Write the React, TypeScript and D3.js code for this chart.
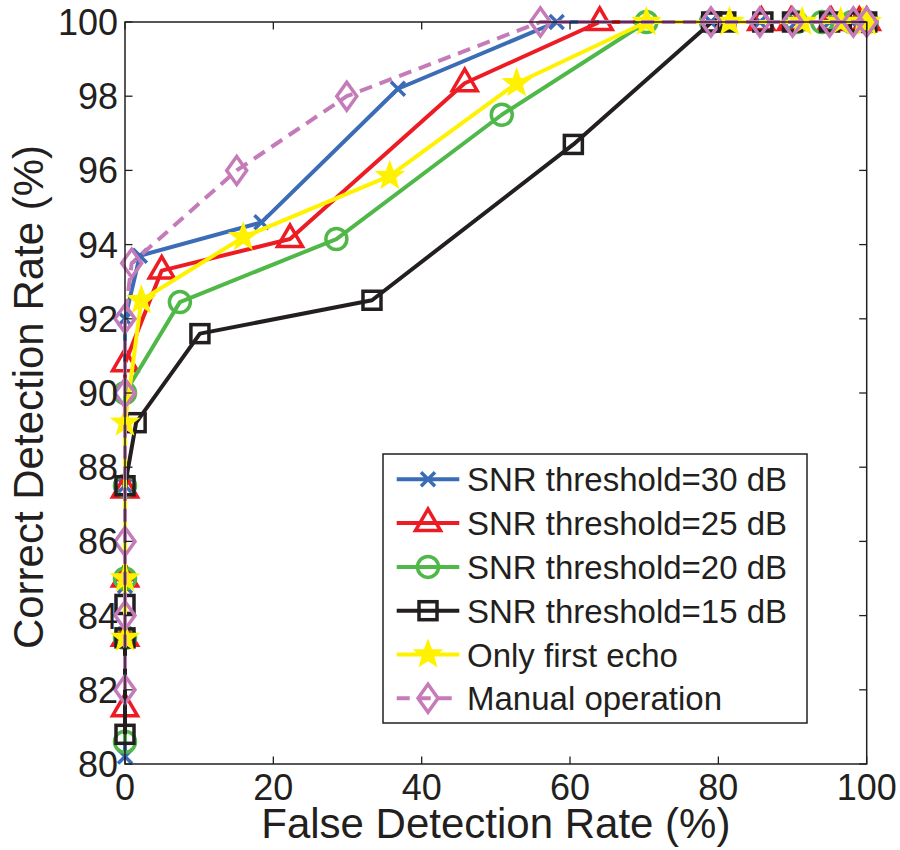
import React from "react";
import * as d3 from "d3";

const X_TICKS = [0, 20, 40, 60, 80, 100];
const Y_TICKS = [80, 82, 84, 86, 88, 90, 92, 94, 96, 98, 100];

const seriesNames = [
  "SNR threshold=30 dB",
  "SNR threshold=25 dB",
  "SNR threshold=20 dB",
  "SNR threshold=15 dB",
  "Only first echo",
  "Manual operation",
];

const snr30X = [0, 0, 0, 0, 0, 2.0, 18.4, 36.8, 58.2, 79, 85.6, 90.5, 95, 98, 100];
const snr30Y = [80.2, 83.5, 84.8, 87.5, 92.0, 93.7, 94.6, 98.2, 100, 100, 100, 100, 100, 100, 100];

const snr25X = [0, 0, 0, 0, 0, 4.95, 22.25, 45.8, 64.0, 85.8, 89.8, 95.2, 99, 100];
const snr25Y = [81.5, 83.4, 85.0, 87.4, 90.8, 93.3, 94.15, 98.35, 100, 100, 100, 100, 100, 100];

const snr20X = [0, 0, 0, 0, 0, 7.4, 28.5, 50.8, 70.3, 79, 90.5, 94, 98, 100];
const snr20Y = [80.6, 83.4, 85.0, 87.5, 90.0, 92.45, 94.15, 97.5, 100, 100, 100, 100, 100, 100];

const snr15X = [0, 0, 0, 0, 1.5, 10.1, 33.3, 60.45, 79.1, 81, 86, 90, 95, 99, 100];
const snr15Y = [80.8, 83.4, 84.3, 87.5, 89.2, 91.6, 92.5, 96.7, 100, 100, 100, 100, 100, 100, 100];

const firstEchoX = [0, 0, 0, 2.2, 15.95, 35.7, 52.8, 70.3, 81.5, 91.3, 96.5, 99.5, 100];
const firstEchoY = [83.4, 85.0, 89.2, 92.5, 94.2, 95.85, 98.35, 100, 100, 100, 100, 100, 100];

const manualX = [0, 0, 0, 0, 0, 0.9, 15.06, 29.9, 56, 79, 85.6, 90, 95, 98.2, 100];
const manualY = [82, 84, 86, 90, 92, 93.5, 96, 98, 100, 100, 100, 100, 100, 100, 100];

const seriesX = [snr30X, snr25X, snr20X, snr15X, firstEchoX, manualX];
const seriesY = [snr30Y, snr25Y, snr20Y, snr15Y, firstEchoY, manualY];
const colors = ["#3b6cb6", "#ed1c24", "#4fb848", "#231f20", "#fff200", "#c67bb9"];
const markers = ["x", "tri", "circle", "square", "star", "diamond"];
const dashes = [null, null, null, null, null, "13,8"];

const W = 900;
const H = 850;
const L = 125, R = 866.7, T = 22, B = 764;
const FONT = "Liberation Sans, Arial, Helvetica, sans-serif";
const TXT = "#231f20";

function starPath(ro: number, ri: number) {
  const pts: string[] = [];
  for (let i = 0; i < 10; i++) {
    const r = i % 2 === 0 ? ro : ri;
    const a = -Math.PI / 2 + (i * Math.PI) / 5;
    pts.push(`${(r * Math.cos(a)).toFixed(2)},${(r * Math.sin(a)).toFixed(2)}`);
  }
  return "M" + pts.join("L") + "Z";
}

function Marker({ type, x, y, color }: { type: string; x: number; y: number; color: string }) {
  const common = { fill: "none", stroke: color, strokeWidth: 3.5 };
  switch (type) {
    case "x":
      return (
        <path
          transform={`translate(${x},${y})`}
          d="M-7,-7L7,7M-7,7L7,-7"
          {...common}
        />
      );
    case "tri":
      return (
        <path
          transform={`translate(${x},${y})`}
          d="M0,-14L12.5,7.5L-12.5,7.5Z"
          {...common}
          strokeLinejoin="miter"
        />
      );
    case "circle":
      return <circle cx={x} cy={y} r={10.5} {...common} />;
    case "square":
      return <rect x={x - 9} y={y - 9} width={18} height={18} {...common} />;
    case "star":
      return (
        <path
          transform={`translate(${x},${y})`}
          d={starPath(14, 5.8)}
          fill={color}
          stroke={color}
          strokeWidth={1.5}
          strokeLinejoin="miter"
        />
      );
    case "diamond":
      return (
        <path
          transform={`translate(${x},${y})`}
          d="M0,-14L10,0L0,14L-10,0Z"
          {...common}
        />
      );
    default:
      return null;
  }
}

export default function App() {
  const xs = d3.scaleLinear().domain([0, 100]).range([L, R]);
  const ys = d3.scaleLinear().domain([80, 100]).range([B, T]);
  const line = d3
    .line<[number, number]>()
    .x((d) => xs(d[0]))
    .y((d) => ys(d[1]));

  const legX = 383, legY = 454, legW = 424, legH = 269;
  const rowY0 = 479.3, rowStep = 43.8;

  return (
    <svg
      width={W}
      height={H}
      style={{ position: "absolute", left: 0, top: 0, background: "#fff" }}
      fontFamily={FONT}
    >
      <rect x={0} y={0} width={W} height={H} fill="#fff" />
      {seriesX.map((sx, i) => {
        const pts = sx.map((v, j) => [v, seriesY[i][j]] as [number, number]);
        return (
          <g key={"s" + i}>
            <path
              d={line(pts) || ""}
              fill="none"
              stroke={colors[i]}
              strokeWidth={4}
              strokeDasharray={dashes[i] || undefined}
              strokeLinejoin="round"
            />
            {pts.map((p, j) => (
              <Marker key={j} type={markers[i]} x={xs(p[0])} y={ys(p[1])} color={colors[i]} />
            ))}
          </g>
        );
      })}
      <rect x={L} y={T} width={R - L} height={B - T} fill="none" stroke={TXT} strokeWidth={1.5} />
      {X_TICKS.map((t) => (
        <g key={"xt" + t}>
          <line x1={xs(t)} x2={xs(t)} y1={B} y2={B - 7.5} stroke={TXT} strokeWidth={1.3} />
          <line x1={xs(t)} x2={xs(t)} y1={T} y2={T + 7.5} stroke={TXT} strokeWidth={1.3} />
          <text x={xs(t)} y={800} textAnchor="middle" fontSize={36} fill={TXT}>
            {t}
          </text>
        </g>
      ))}
      {Y_TICKS.map((t) => (
        <g key={"yt" + t}>
          <line x1={L} x2={L + 7.5} y1={ys(t)} y2={ys(t)} stroke={TXT} strokeWidth={1.3} />
          <line x1={R} x2={R - 7.5} y1={ys(t)} y2={ys(t)} stroke={TXT} strokeWidth={1.3} />
          <text x={118} y={ys(t) + 13} textAnchor="end" fontSize={36} fill={TXT}>
            {t}
          </text>
        </g>
      ))}
      <text x={(L + R) / 2} y={838} textAnchor="middle" fontSize={42} fill={TXT}>
        False Detection Rate (%)
      </text>
      <text
        transform={`translate(43,${(T + B) / 2 + 4}) rotate(-90)`}
        textAnchor="middle"
        fontSize={42}
        fill={TXT}
      >
        Correct Detection Rate (%)
      </text>
      <rect x={legX} y={legY} width={legW} height={legH} fill="#fff" stroke={TXT} strokeWidth={1.5} />
      {seriesNames.map((name, i) => {
        const yy = rowY0 + i * rowStep;
        return (
          <g key={"lg" + i}>
            <line
              x1={396.7}
              x2={459.3}
              y1={yy}
              y2={yy}
              stroke={colors[i]}
              strokeWidth={4}
              strokeDasharray={dashes[i] || undefined}
            />
            <Marker type={markers[i]} x={428} y={yy} color={colors[i]} />
            <text x={467} y={yy + 12} fontSize={33} fill={TXT}>
              {name}
            </text>
          </g>
        );
      })}
    </svg>
  );
}
